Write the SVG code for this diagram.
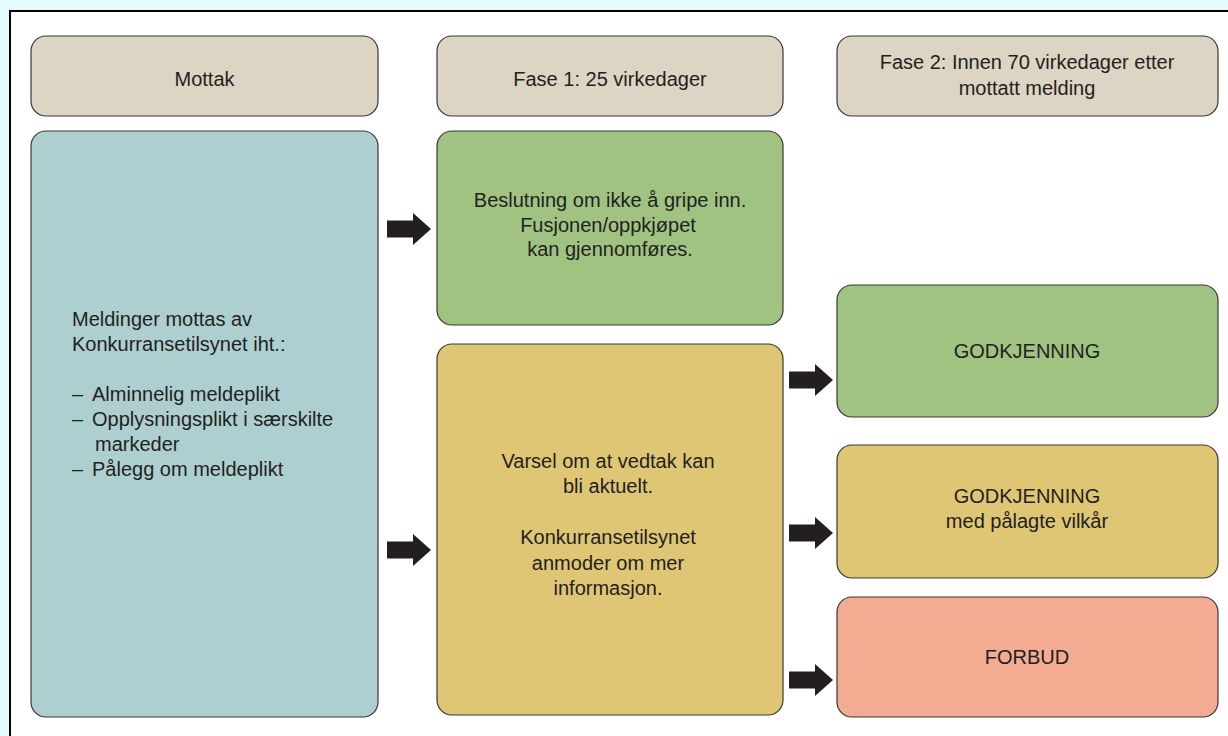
<svg xmlns="http://www.w3.org/2000/svg" xmlns:xlink="http://www.w3.org/1999/xlink" width="1228" height="736" viewBox="0 0 1228 736">
  <style>
    .box { stroke: #3a3637; stroke-width: 1.2; }
    .hdr { fill: #ddd5c3; }
    .blue { fill: #aecfd0; }
    .green { fill: #a0c382; }
    .yellow { fill: #dfc674; }
    .red { fill: #f3ab92; }
    text { font-family: "Liberation Sans", Arial, sans-serif; font-size: 20px; fill: #231f20; }
    .c { text-anchor: middle; }
    .arrow { fill: #231f20; }
  </style>
  <defs>
    <!-- block arrow, tip pointing right, origin at left end of shaft centre -->
    <path id="blockArrow" d="M0,-8.5 H26 V-16 L44,0 L26,16 V8.5 H0 Z"/>
  </defs>

  <!-- page background and frame -->
  <rect x="0" y="0" width="1228" height="736" fill="#e6fcfc"/>
  <rect x="10" y="11" width="1240" height="760" fill="#ffffff" stroke="#000000" stroke-width="2"/>

  <!-- column headers -->
  <g id="hdr-mottak">
    <rect class="box hdr" x="31" y="36" width="347" height="80" rx="15"/>
    <text class="c" x="204.5" y="86">Mottak</text>
  </g>
  <g id="hdr-fase1">
    <rect class="box hdr" x="437" y="36" width="346" height="80" rx="15"/>
    <text class="c" x="610" y="86">Fase 1: 25 virkedager</text>
  </g>
  <g id="hdr-fase2">
    <rect class="box hdr" x="837" y="36" width="381" height="80" rx="15"/>
    <text class="c" x="1027" y="69">Fase 2: Innen 70 virkedager etter</text>
    <text class="c" x="1027" y="95">mottatt melding</text>
  </g>

  <!-- receipt column -->
  <g id="mottak">
    <rect class="box blue" x="31" y="131" width="347" height="586" rx="15"/>
    <text x="72" y="326">Meldinger mottas av</text>
    <text x="72" y="351">Konkurransetilsynet iht.:</text>
    <text x="72" y="401">–</text>
    <text x="92" y="401">Alminnelig meldeplikt</text>
    <text x="72" y="426">–</text>
    <text x="92" y="426">Opplysningsplikt i særskilte</text>
    <text x="95" y="451">markeder</text>
    <text x="72" y="476">–</text>
    <text x="92" y="476">Pålegg om meldeplikt</text>
  </g>

  <!-- phase 1 outcomes -->
  <g id="ikke-gripe-inn">
    <rect class="box green" x="437" y="131" width="346" height="194" rx="15"/>
    <text class="c" x="610" y="207">Beslutning om ikke å gripe inn.</text>
    <text class="c" x="608" y="232">Fusjonen/oppkjøpet</text>
    <text class="c" x="610" y="256">kan gjennomføres.</text>
  </g>
  <g id="varsel">
    <rect class="box yellow" x="437" y="344" width="346" height="371" rx="15"/>
    <text class="c" x="608" y="468">Varsel om at vedtak kan</text>
    <text class="c" x="608" y="493">bli aktuelt.</text>
    <text class="c" x="608" y="544">Konkurransetilsynet</text>
    <text class="c" x="608" y="570">anmoder om mer</text>
    <text class="c" x="608" y="595">informasjon.</text>
  </g>

  <!-- phase 2 outcomes -->
  <g id="godkjenning">
    <rect class="box green" x="837" y="285" width="381" height="132" rx="15"/>
    <text class="c" x="1027" y="358">GODKJENNING</text>
  </g>
  <g id="godkjenning-vilkaar">
    <rect class="box yellow" x="837" y="445" width="381" height="133" rx="15"/>
    <text class="c" x="1027" y="503">GODKJENNING</text>
    <text class="c" x="1027" y="528">med pålagte vilkår</text>
  </g>
  <g id="forbud">
    <rect class="box red" x="837" y="597" width="381" height="120" rx="15"/>
    <text class="c" x="1027" y="664">FORBUD</text>
  </g>

  <!-- connectors -->
  <g id="connectors" class="arrow">
    <use xlink:href="#blockArrow" transform="translate(387,229)"/>
    <use xlink:href="#blockArrow" transform="translate(387,550)"/>
    <use xlink:href="#blockArrow" transform="translate(789,380)"/>
    <use xlink:href="#blockArrow" transform="translate(789,533)"/>
    <use xlink:href="#blockArrow" transform="translate(789,680)"/>
  </g>
</svg>
